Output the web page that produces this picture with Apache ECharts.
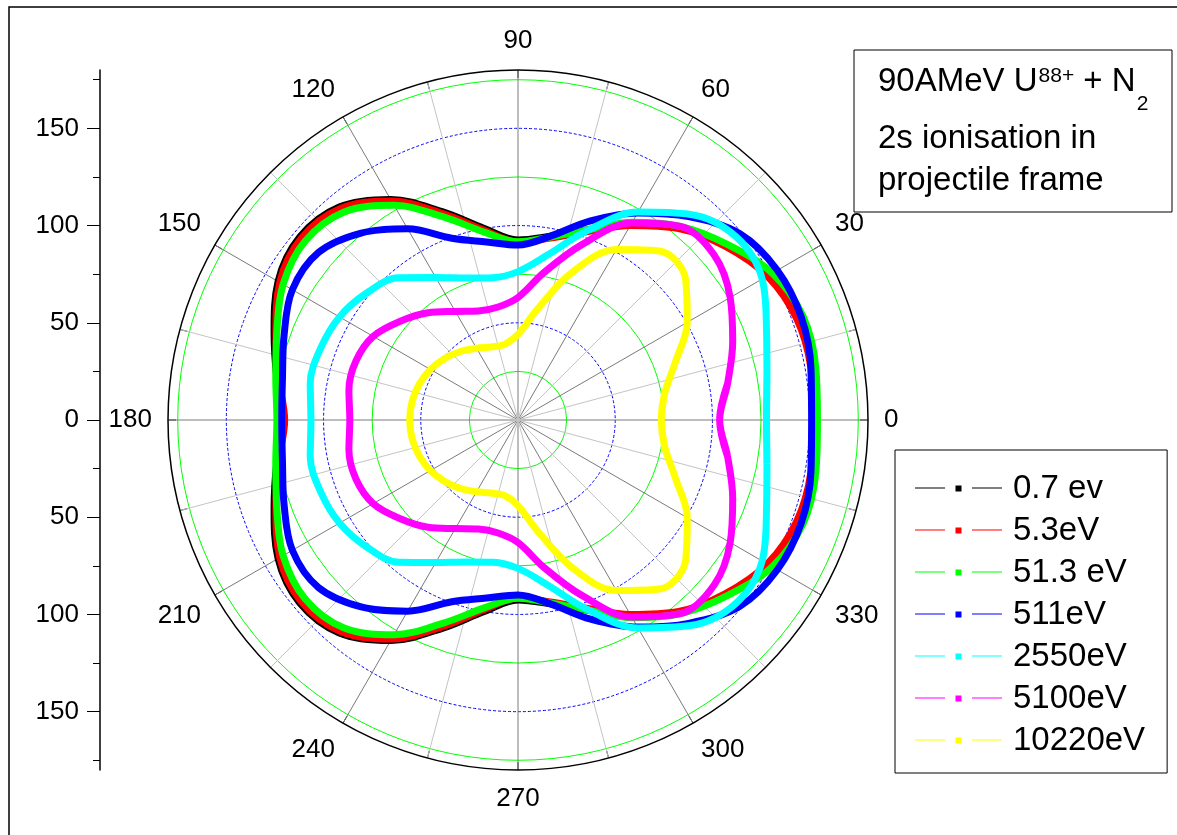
<!DOCTYPE html>
<html><head><meta charset="utf-8">
<script src="https://cdn.jsdelivr.net/npm/echarts@6/dist/echarts.min.js"></script>
<style>html,body{margin:0;padding:0;background:#fff}#c{width:1177px;height:835px}</style>
</head><body><div id="c"></div><script>
// angle (degrees) at which each radius value is read
const angles = [0,10,20,30,40,50,60,70,80,90,100,110,120,130,140,150,160,170,180,190,200,210,220,230,240,250,260,270,280,290,300,310,320,330,340,350,360];
const e0_7 = [153,154,153.5,149,140,129.5,116.5,104,96,92.6,100,114,131,143,146.5,142.5,133.5,126,120.5,126,133.5,142.5,146.5,143,131,114,100,92.6,96,104,116.5,129.5,140,149,153.5,154,153];
const e5_3 = [152,153,152.5,148,139,128.5,115.5,103,95,91.6,99,113,130,142,145.5,141.5,132.5,125,120,125,132.5,141.5,145.5,142,130,113,99,91.6,95,103,115.5,128.5,139,148,152.5,153,152];
const e51_3 = [154,155.5,156,151,140.5,130,117.5,104,95.5,91.7,98,111,127.5,139.5,143,139.5,132,126.5,124,126.5,132,139.5,143,139.5,127.5,111,98,91.7,95.5,104,117.5,130,140.5,151,156,155.5,154];
const e511 = [151,153,155,154,149,136.5,123,109,96,90,93,99.5,113.5,125.5,134,134,128,123,121.5,123,128,134,134,125.5,113.5,99.5,93,90,96,109,123,136.5,149,154,155,153,151];
const e2550 = [127.8,130,136,145,146.5,138,123.5,103.5,86,76.3,74.3,77.7,84.6,95.5,101.6,106,108,108.5,106.5,108.5,108,106,101.6,95.5,84.6,77.7,74.3,76.3,86,103.5,123.5,138,146.5,145,136,130,127.8];
const e5100 = [103.7,109.5,117.5,126,131.8,130,117,96,77,63,59,59.7,64.5,72,79,86,88.7,88.3,86.5,88.3,88.7,86,79,72,64.5,59.7,59,63,77,96,117,130,131.8,126,117.5,109.5,103.7];
const e10220 = [73.7,76.5,86,100.5,112.5,113.5,101.3,80.5,58,44,39.5,40,42.6,46,49.2,52,54,55.3,55.7,55.3,54,52,49.2,46,42.6,40,39.5,44,58,80.5,101.3,113.5,112.5,100.5,86,76.5,73.7];

const seriesNames = ['0.7 ev','5.3eV','51.3 eV','511eV','2550eV','5100eV','10220eV'];
const seriesValues = [e0_7, e5_3, e51_3, e511, e2550, e5100, e10220];
const seriesColors = ['#000000','#ff0000','#00ff00','#0000ff','#00ffff','#ff00ff','#ffff00'];

const angleLabels = [0,30,60,90,120,150,180,210,240,270,300,330];
const radialTickValues = [-150,-100,-50,0,50,100,150];
const radialMinorTicks = [-175,-125,-75,-25,25,75,125,175];

const titleLine1 = ['90AMeV U', '88+', ' + N', '2'];
const titleLine2 = '2s ionisation in';
const titleLine3 = 'projectile frame';

const FONT = '"Liberation Sans", Arial, Helvetica, sans-serif';
const cv = document.createElement('canvas').getContext('2d');
function tw(t, s){ cv.font = s + 'px ' + FONT; return cv.measureText(t).width; }

const chart = echarts.init(document.getElementById('c'), null, {renderer:'canvas'});

const tx = 878, big = 33, small = 21;
const w0 = tw(titleLine1[0], big), w1 = tw(titleLine1[1], small), w2 = tw(titleLine1[2], big);
function txt(x, y, text, size){
  return {type:'text', x:x, y:y, z:10, style:{text:text, font: size + 'px ' + FONT, fill:'#000', verticalAlign:'middle', align:'left'}};
}

// closed curve: repeat one neighbour on each side so the smoothing is continuous at 0/360
function closedData(vals){
  const n = angles.length - 1; // last entry (360) repeats the first
  const out = [[vals[n - 1], angles[n - 1] - 360]];
  for (let j = 0; j < angles.length; j++) out.push([vals[j], angles[j]]);
  out.push([vals[1], angles[1] + 360]);
  return out;
}

const option = {
  animation: false,
  backgroundColor: '#fff',
  textStyle: {fontFamily: FONT},
  polar: [
    {center:[518,420], radius:350},
    {center:[518,420], radius:350}
  ],
  radiusAxis: [
    {polarIndex:0, type:'value', min:0, max:180, interval:25,
      axisLine:{show:false}, axisTick:{show:false}, axisLabel:{show:false},
      splitLine:{show:true, lineStyle:{color:['rgba(0,0,0,0)','#00ff00'], width:1}}},
    {polarIndex:1, type:'value', min:0, max:180, interval:50,
      axisLine:{show:false}, axisTick:{show:false}, axisLabel:{show:false},
      splitLine:{show:true, lineStyle:{color:['#0000ff','#0000ff','#0000ff','#0000ff','rgba(0,0,0,0)'], width:1, type:[3,2]}}}
  ],
  angleAxis: [
    {polarIndex:0, type:'value', min:0, max:360, interval:15, startAngle:0, clockwise:false, show:false},
    {polarIndex:1, type:'value', min:0, max:360, interval:15, startAngle:0, clockwise:false,
      axisLine:{show:true, lineStyle:{color:'#000', width:1.5}},
      axisTick:{show:true, inside:true, length:8, lineStyle:{color:'#000', width:1}},
      axisLabel:{show:true, margin:16, fontSize:26, color:'#000', fontFamily:FONT,
        formatter:function(v){ return angleLabels.indexOf(v) >= 0 && v < 360 ? String(v) : ''; }},
      splitLine:{show:true, lineStyle:{color:['#7a7a7a','#c4c4c4'], width:1}}}
  ],
  grid: {left:100, top:70, height:700, width:40},
  xAxis: {type:'value', show:false, min:0, max:1},
  yAxis: [
    {type:'value', min:-180, max:180, position:'left',
      axisLine:{show:true, lineStyle:{color:'#000', width:1.5}},
      axisTick:{show:true, length:13, customValues: radialTickValues, lineStyle:{color:'#000', width:1}},
      axisLabel:{show:true, customValues: radialTickValues, margin:21, fontSize:26, color:'#000', fontFamily:FONT,
        formatter:function(v){ return String(Math.abs(v)); }},
      splitLine:{show:false}},
    {type:'value', min:-180, max:180, position:'left',
      axisLine:{show:false},
      axisTick:{show:true, length:7, customValues: radialMinorTicks, lineStyle:{color:'#000', width:1}},
      axisLabel:{show:false}, splitLine:{show:false}}
  ],
  legend: {
    orient:'vertical', left:895, top:450, padding:[22,22,16,20],
    itemWidth:87, itemHeight:6, itemGap:9,
    borderColor:'#000', borderWidth:1, backgroundColor:'#fff',
    selectedMode:false,
    icon:'path://M0,2L30,2L30,3L0,3Z M40.5,0L46.5,0L46.5,6L40.5,6Z M57,2L87,2L87,3L57,3Z',
    itemStyle:{borderWidth:0},
    textStyle:{fontSize:33, lineHeight:33, color:'#000', fontFamily:FONT, padding:[0,0,0,6]},
    data: seriesNames.map(function(n, i){ return {name:n, itemStyle:{color:seriesColors[i], borderWidth:0}}; })
  },
  graphic: [
    {type:'rect', z:10, shape:{x:9, y:7, width:1400, height:1000}, style:{fill:'none', stroke:'#000', lineWidth:1.5}},
    {type:'rect', z:10, shape:{x:854, y:50, width:318, height:162}, style:{fill:'#fff', stroke:'#000', lineWidth:1}},
    txt(tx, 82, titleLine1[0], big),
    txt(tx + w0 + 1, 76, titleLine1[1], small),
    txt(tx + w0 + w1 + 1, 82, titleLine1[2], big),
    txt(tx + w0 + w1 + w2 + 2, 104, titleLine1[3], small),
    txt(tx, 139, titleLine2, big),
    txt(tx, 181, titleLine3, big)
  ],
  series: seriesValues.map(function(vals, i){
    return {
      type:'line', name: seriesNames[i], coordinateSystem:'polar', polarIndex:1,
      data: closedData(vals),
      smooth: 0.35, showSymbol:false, symbol:'rect',
      lineStyle:{width:7, color: seriesColors[i]},
      itemStyle:{color: seriesColors[i]},
      silent:true
    };
  })
};
chart.setOption(option);
</script></body></html>
